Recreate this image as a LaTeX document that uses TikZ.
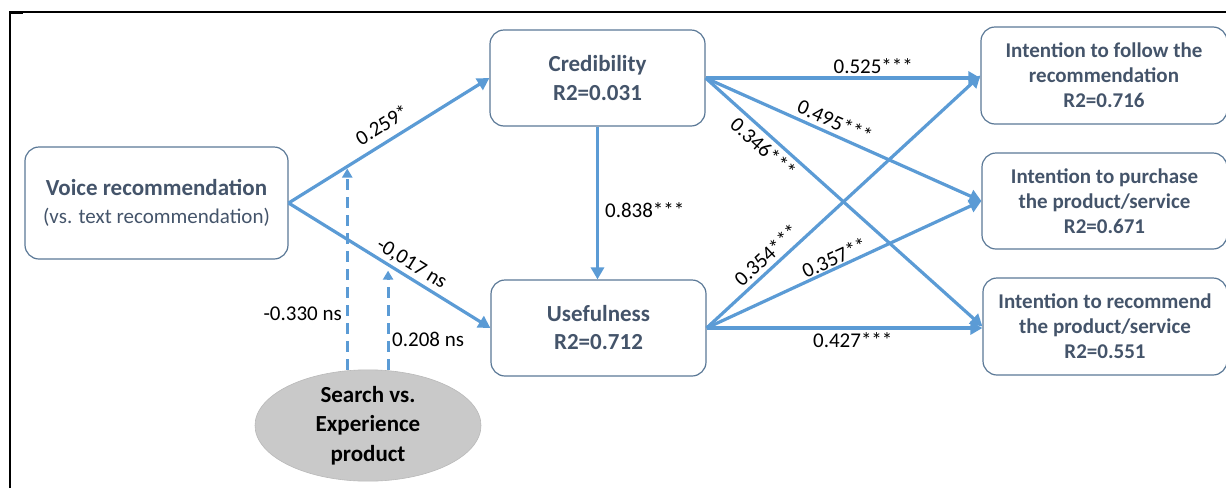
\documentclass[tikz,border=0pt]{standalone}
\usepackage{fontspec}
\setmainfont{Carlito}
\usetikzlibrary{arrows.meta,shapes.geometric}
\definecolor{arr}{HTML}{5B9BD5}
\definecolor{bx}{HTML}{5A7896}
\definecolor{tx}{HTML}{44546A}
\begin{document}
\begin{tikzpicture}[x=1pt,y=-1pt,
  box/.style={draw=bx, line width=1.2pt, rounded corners=14pt, text=tx, align=center,
    font=\fontsize{23}{25}\selectfont\bfseries, inner sep=0pt},
  outbox/.style={box, font=\fontsize{21}{25}\selectfont\bfseries},
  path/.style={draw=arr, line width=3.2pt, -{Triangle[length=12pt,width=13pt]}},
  mod/.style={draw=arr, line width=3pt, dash pattern=on 11pt off 7pt, -{Triangle[length=9pt,width=10pt]}},
  lab/.style={font=\fontsize{21}{24}\selectfont, text=black, inner sep=3pt}]
\useasboundingbox (0,0) rectangle (1226,488);
\draw[line width=1.2pt] (10,488) -- (10,12) -- (1226,12);
\draw[line width=2.4pt] (10,12.5) -- (23,12.5);

\node[box, minimum width=263pt, minimum height=112pt] (voice) at (156.5,203)
  {Voice recommendation\\[3pt]{\fontsize{21}{25}\selectfont\mdseries (vs. text recommendation)}};
\node[box, minimum width=215pt, minimum height=96pt] (cred) at (597.5,78)
  {Credibility\\[4pt]R2=0.031};
\node[box, minimum width=215pt, minimum height=96pt] (usef) at (598.5,328)
  {Usefulness\\[3pt]R2=0.712};
\node[outbox, minimum width=246pt, minimum height=97pt] (fol) at (1104,75.5)
  {Intention to follow the\\recommendation\\R2=0.716};
\node[outbox, minimum width=245pt, minimum height=96pt] (pur) at (1104.5,201)
  {Intention to purchase\\the product/service\\R2=0.671};
\node[outbox, minimum width=244pt, minimum height=97pt] (rec) at (1105,326.5)
  {Intention to recommend\\the product/service\\R2=0.551};
\node[ellipse, fill=gray!42, draw=gray!55, line width=0.6pt, minimum width=226pt, minimum height=101pt,
  inner sep=0pt, align=center, font=\fontsize{23}{29.5}\selectfont\bfseries] (ell) at (368,425.5)
  {Search vs.\\Experience\\product};

\draw[path] (voice.east) -- node[lab, pos=0.51, sloped, above, inner sep=8pt] {0.259*} coordinate[pos=0.292] (m1) (cred.west);
\draw[path] (voice.east) -- node[lab, pos=0.575, sloped, above] {-0,017 ns} coordinate[pos=0.493] (m2) (usef.west);
\draw[mod, shorten >=2pt] (ell.north -| m1) -- (m1);
\draw[mod, shorten >=6pt] (ell.north -| m2) -- (m2);
\node[lab, anchor=east] (l330) at (345,314) {-0.330 ns};
\node[lab, anchor=west] (l208) at (389,339) {0.208 ns};

\draw[path] (cred.south) -- node[lab, anchor=west, pos=0.545, xshift=3pt] {0.838***} (cred.south |- usef.north);
\draw[path] (cred.east) -- node[lab, pos=0.61, above] {0.525***} (fol.west |- cred.east);
\draw[path] (cred.east) -- node[lab, pos=0.45, sloped, above, inner sep=4pt] {0.495***} (pur.west);
\draw[path] (cred.east) -- node[lab, pos=0.24, sloped, below, inner sep=4pt] {0.346***} (rec.west);
\draw[path] (usef.east) -- node[lab, pos=0.25, sloped, above, inner sep=4pt] {0.354***} (fol.west);
\draw[path] (usef.east) -- node[lab, pos=0.48, sloped, above, inner sep=1pt] {0.357**} (pur.west);
\draw[path] (usef.east) -- node[lab, pos=0.53, below] {0.427***} (rec.west |- usef.east);
\end{tikzpicture}
\end{document}
